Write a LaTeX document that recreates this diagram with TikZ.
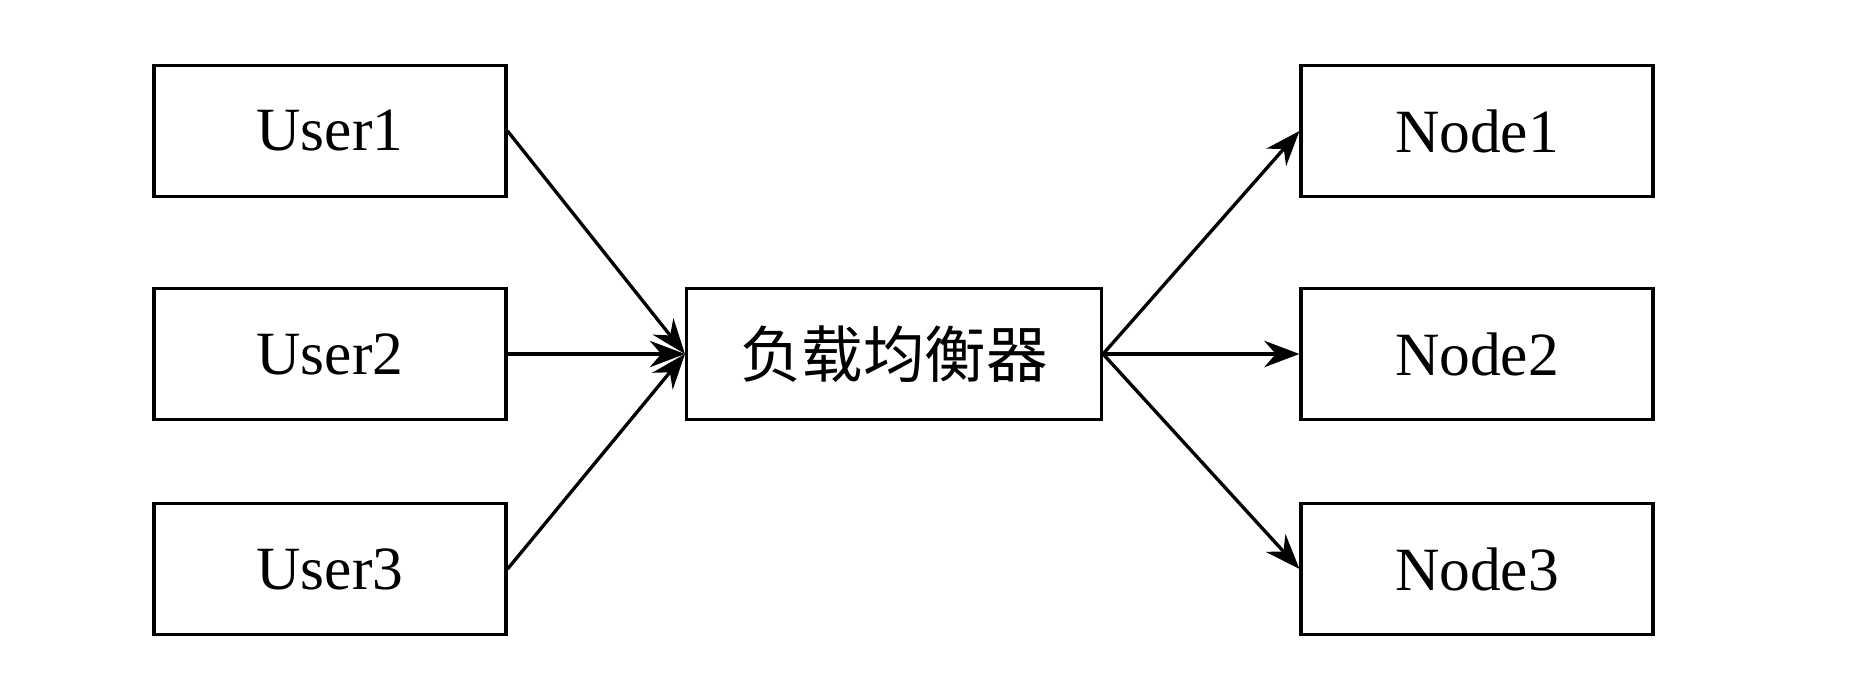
\documentclass[tikz,border=0pt]{standalone}
\usepackage{fontspec}
\setmainfont{Liberation Serif}
\newfontfamily\cjk{Noto Sans CJK SC}
\usetikzlibrary{arrows.meta}

\begin{document}
\begin{tikzpicture}
[
x=0.02cm, y=-0.02cm,
box/.style={draw, line width=1.8pt, minimum width=7.04cm, minimum height=2.62cm, inner sep=0pt, font=\fontsize{35}{40}\selectfont},
link/.style={-{Stealth[length=20pt, width=15pt]}, line width=1.9pt}
]
\useasboundingbox (0,0) rectangle (1862,688);
\node[box] (user1) at (330,131) {User1};
\node[box] (user2) at (330,354) {User2};
\node[box] (user3) at (330,569) {User3};
\node[box, minimum width=8.3cm] (lb) at (894,354) {\cjk 负载均衡器};
\node[box] (node1) at (1477,131) {Node1};
\node[box] (node2) at (1477,354) {Node2};
\node[box] (node3) at (1477,569) {Node3};

\foreach \u in {user1,user2,user3}
  \draw[link] (\u.east) -- (lb.west);
\foreach \n in {node1,node2,node3}
  \draw[link] (lb.east) -- (\n.west);
\end{tikzpicture}
\end{document}
